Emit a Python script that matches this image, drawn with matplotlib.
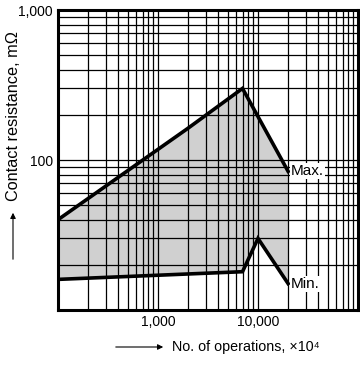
import numpy as np
import matplotlib
matplotlib.use("Agg")
import matplotlib.pyplot as plt
from matplotlib.ticker import FixedLocator, FixedFormatter, LogLocator, NullFormatter

plt.rcParams['font.family'] = ['Liberation Sans', 'DejaVu Sans']

# operations (x10^4) vs contact resistance (mOhm)
max_ops = [100, 2000, 7000, 20000]
max_res = [40, 163, 300, 84]
min_ops = [100, 7000, 10000, 20000]
min_res = [16, 18, 30, 15]

x_ticks = [1000, 10000]
x_labels = ["1,000", "10,000"]
y_ticks = [100, 1000]
y_labels = ["100", "1,000"]

fig = plt.figure(figsize=(3.6, 3.65), dpi=100)
ax = fig.add_axes([58 / 360, 1 - 310 / 365, 300 / 360, 300 / 365])
ax.set_xscale("log")
ax.set_yscale("log")
ax.set_xlim(100, 100000)
ax.set_ylim(10, 1000)

# band between the two curves, closed at the last point
band_x = max_ops + min_ops[::-1]
band_y = max_res + min_res[::-1]
ax.fill(band_x, band_y, color="#d0d0d0", lw=0, zorder=1)

ax.xaxis.set_major_locator(FixedLocator(x_ticks))
ax.xaxis.set_major_formatter(FixedFormatter(x_labels))
ax.yaxis.set_major_locator(FixedLocator(y_ticks))
ax.yaxis.set_major_formatter(FixedFormatter(y_labels))
ax.xaxis.set_minor_locator(LogLocator(base=10, subs=np.arange(1, 10)))
ax.yaxis.set_minor_locator(LogLocator(base=10, subs=np.arange(1, 10)))
ax.xaxis.set_minor_formatter(NullFormatter())
ax.yaxis.set_minor_formatter(NullFormatter())
ax.tick_params(which="both", length=0, labelsize=10, pad=3.6)
ax.set_axisbelow(False)
ax.grid(True, which="both", color="black", lw=0.9, zorder=2)

ax.plot(max_ops, max_res, color="black", lw=2.6, zorder=3, solid_joinstyle="miter")
ax.plot(min_ops, min_res, color="black", lw=2.6, zorder=3, solid_joinstyle="miter")

ax.text(max_ops[-1] * 1.07, max_res[-1], "Max.", fontsize=11, va="center", ha="left",
        zorder=4, bbox=dict(facecolor="white", edgecolor="none", pad=0.8))
ax.text(min_ops[-1] * 1.07, min_res[-1], "Min.", fontsize=11, va="center", ha="left",
        zorder=4, bbox=dict(facecolor="white", edgecolor="none", pad=0.8))

for s in ax.spines.values():
    s.set_linewidth(2.2)
    s.set_zorder(5)

# axis captions with arrows
fig.text(172, 365 - 347, "No. of operations, \u00d710\u2074", fontsize=10.3,
         ha="left", va="center", transform=None)
ax.annotate("", xy=(166, 365 - 347), xytext=(113, 365 - 347), xycoords="figure pixels",
            textcoords="figure pixels",
            arrowprops=dict(arrowstyle="-|>", lw=0.8, color="black", mutation_scale=8))
fig.text(14, 365 - 116, "Contact resistance, m\u03a9", fontsize=11.7, rotation=90,
         ha="center", va="center", transform=None)
ax.annotate("", xy=(13, 365 - 210), xytext=(13, 365 - 262), xycoords="figure pixels",
            textcoords="figure pixels",
            arrowprops=dict(arrowstyle="-|>", lw=0.8, color="black", mutation_scale=8))

fig.savefig("out.png", dpi=100)
